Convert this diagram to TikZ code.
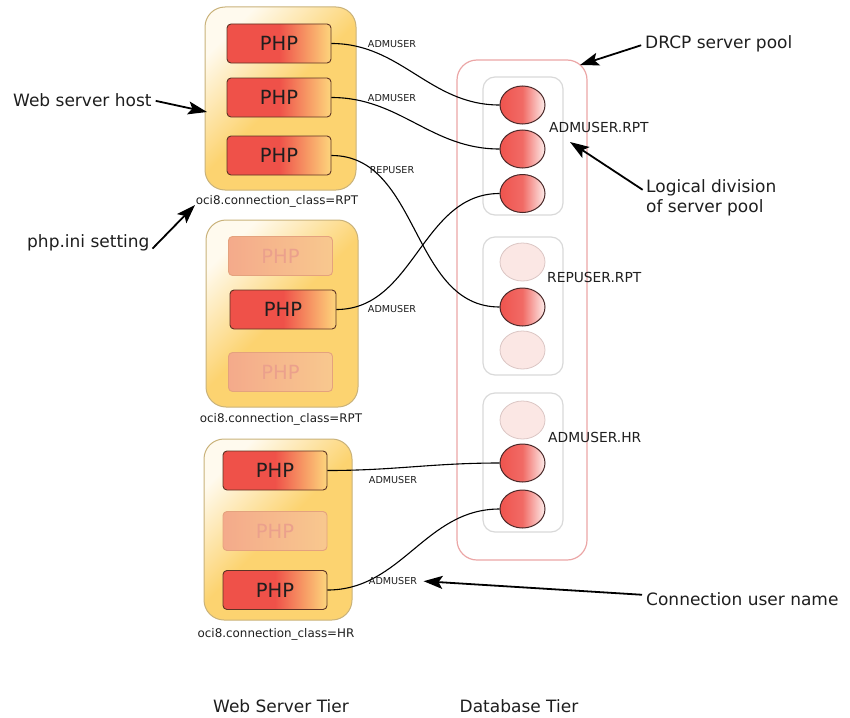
\documentclass[tikz,border=0pt]{standalone}
\usepackage{fontspec}
\setmainfont{DejaVu Sans}
\usetikzlibrary{arrows.meta,shapes.geometric}
\definecolor{hostgold}{HTML}{FCD370}
\definecolor{hostpale}{HTML}{FFFAEE}
\definecolor{hostedge}{HTML}{C9B27A}
\definecolor{phpred}{HTML}{EF5149}
\definecolor{phpyellow}{HTML}{FDD57C}
\definecolor{phpedge}{HTML}{5E3424}
\definecolor{offleft}{HTML}{F4AA8B}
\definecolor{offright}{HTML}{F8C88E}
\definecolor{offedge}{HTML}{E4A27E}
\definecolor{offtext}{HTML}{EBA08C}
\definecolor{srvred}{HTML}{EF544E}
\definecolor{srvwhite}{HTML}{FDEDEB}
\definecolor{srvedge}{HTML}{4A2828}
\definecolor{idlefill}{HTML}{FBE7E4}
\definecolor{idleedge}{HTML}{DBC6C4}
\definecolor{divedge}{HTML}{D9D9D9}
\definecolor{pooledge}{HTML}{EBA6A6}
\definecolor{inkdark}{HTML}{1E1E1E}
\begin{document}
\begin{tikzpicture}[x=1pt,y=-1pt,
	host/.style={draw=hostedge,line width=1pt,rounded corners=20pt,top color=hostpale,bottom color=hostgold,middle color=hostgold,shading angle=45},
	php/.style={draw=phpedge,line width=0.9pt,rounded corners=4pt,left color=phpred,right color=phpyellow,middle color=phpred,
		minimum width=104pt,minimum height=39pt,inner sep=0pt,text=inkdark,font=\fontsize{19.5}{22}\selectfont},
	phpoff/.style={php,draw=offedge,left color=offleft,right color=offright,middle color=offleft!50!offright,text=offtext},
	srv/.style={ellipse,draw=srvedge,line width=1pt,minimum width=45pt,minimum height=38pt,inner sep=0pt,
		left color=srvred,right color=srvwhite,middle color=srvred!85!srvwhite},
	srvoff/.style={ellipse,draw=idleedge,line width=0.8pt,fill=idlefill,minimum width=45pt,minimum height=38pt,inner sep=0pt},
	division/.style={draw=divedge,line width=1.2pt,rounded corners=12pt,minimum width=80pt,minimum height=138pt},
	pool/.style={draw=pooledge,line width=1.2pt,rounded corners=20pt,minimum width=130pt,minimum height=500pt},
	conn/.style={draw=black,line width=1.1pt},
	hint/.style={line width=1.8pt,shorten <=4pt,-{Stealth[length=19pt,width=13pt,inset=4pt]}},
	user/.style={text=inkdark,font=\fontsize{9.6}{11}\selectfont},
	cfg/.style={text=inkdark,font=\fontsize{11.9}{14}\selectfont},
	grplabel/.style={anchor=west,inner sep=0pt,text=inkdark,font=\fontsize{13.8}{16}\selectfont},
	callout/.style={anchor=west,inner sep=0pt,text=inkdark,font=\fontsize{17}{20}\selectfont}]
	\useasboundingbox (0,0) rectangle (850,717);
	% web server hosts
	\node[host,minimum width=151pt,minimum height=183pt] (host1) at (280.5,98.5) {};
	\node[host,minimum width=152pt,minimum height=187pt] (host2) at (282,313.5) {};
	\node[host,minimum width=148pt,minimum height=181pt] (host3) at (278,529.5) {};
	\node[php] (p11) at (279,43.5) {PHP};
	\node[php] (p12) at (279,97.5) {PHP};
	\node[php] (p13) at (279,155.5) {PHP};
	\node[phpoff] (p21) at (280.5,256) {PHP};
	\node[php,minimum width=106pt] (p22) at (283,309.5) {PHP};
	\node[phpoff] (p23) at (280.5,372) {PHP};
	\node[php] (p31) at (275,470.5) {PHP};
	\node[phpoff] (p32) at (275,531) {PHP};
	\node[php] (p33) at (275,590) {PHP};
	\node[cfg] (oci1) at (277,201) {oci8.connection\_class=RPT};
	\node[cfg] (oci2) at (281,419) {oci8.connection\_class=RPT};
	\node[cfg] (oci3) at (276,634) {oci8.connection\_class=HR};
	% DRCP pool
	\node[pool] (pool) at (522,310) {};
	\node[division] (div1) at (523,146) {};
	\node[division] (div2) at (523,306) {};
	\node[division,minimum height=139pt] (div3) at (523,462.5) {};
	\node[srv] (s1) at (522.5,105) {};
	\node[srv] (s2) at (522.5,149) {};
	\node[srv] (s3) at (522.5,193.5) {};
	\node[srvoff] (s4) at (522.5,262) {};
	\node[srv] (s5) at (522.5,307) {};
	\node[srvoff] (s6) at (522.5,350) {};
	\node[srvoff] (s7) at (522.5,420) {};
	\node[srv] (s8) at (522.5,463) {};
	\node[srv] (s9) at (522.5,509) {};
	\node[grplabel] (g1) at (549,127) {ADMUSER.RPT};
	\node[grplabel] (g2) at (547,277.5) {REPUSER.RPT};
	\node[grplabel] (g3) at (548,437.5) {ADMUSER.HR};
	% connections
	\draw[conn] (p11.east) to[out=0,in=180] (s1.west);
	\draw[conn] (p12.east) to[out=0,in=180] (s2.west);
	\draw[conn] (p13.east) to[out=0,in=180] (s5.west);
	\draw[conn] (p22.east) to[out=0,in=180] (s3.west);
	\draw[conn] (p31.east) to[out=0,in=180] (s8.west);
	\draw[conn] (p33.east) to[out=0,in=180] (s9.west);
	\node[user] (u1) at (392,44) {ADMUSER};
	\node[user] (u2) at (392,98) {ADMUSER};
	\node[user] (u3) at (392,170) {REPUSER};
	\node[user] (u4) at (392,309) {ADMUSER};
	\node[user] (u5) at (393,480) {ADMUSER};
	\node[user] (u6) at (393,581) {ADMUSER};
	% annotations
	\node[callout] (websrv) at (13,100) {Web server host};
	\node[callout] (phpini) at (27,243) {php.ini setting};
	\node[callout] (drcp) at (645,44) {DRCP server pool};
	\node[callout,align=left] (logic) at (646,198) {Logical division\\of server pool};
	\node[callout] (cname) at (646,599) {Connection user name};
	\coordinate (hostpt) at (207,112);
	\coordinate (inipt) at (195,205);
	\coordinate (poolpt) at (580,65);
	\coordinate (divpt) at (570,142);
	\draw[hint] (websrv.east) -- (hostpt);
	\draw[hint] (phpini.south east) -- (inipt);
	\draw[hint] (drcp.west) -- (poolpt);
	\draw[hint] ([yshift=6pt]logic.west) -- (divpt);
	\draw[hint,shorten >=3pt] ([yshift=4pt]cname.west) -- (u6.east);
	% tiers
	\node[callout,anchor=center] (webtier) at (281,706) {Web Server Tier};
	\node[callout,anchor=center] (dbtier) at (519,706) {Database Tier};
\end{tikzpicture}
\end{document}
